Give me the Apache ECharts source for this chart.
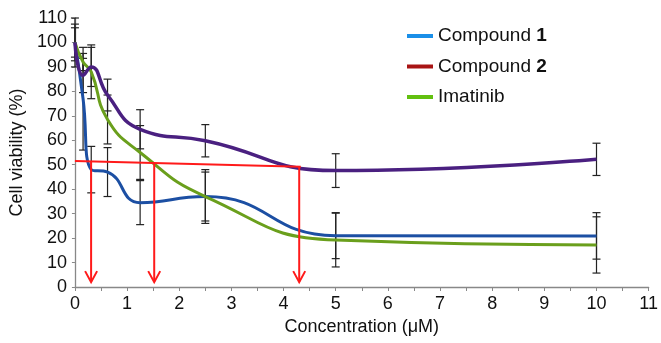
<!DOCTYPE html>
<html><head><meta charset="utf-8">
<script src="https://cdn.jsdelivr.net/npm/echarts@6/dist/echarts.min.js"></script>
<style>html,body{margin:0;padding:0;background:#fff}#c{width:661px;height:343px}</style>
</head><body><div id="c"></div>
<script>
const conc = [0, 0.156, 0.3125, 0.625, 1.25, 2.5, 5, 10];
const comp1 = [100, 77, 48, 47, 34.5, 37, 21, 20.9];
const comp1Err = [6, 21, 9.5, 10, 9, 10, 9.4, 9.5];
const comp2 = [100, 86.5, 90, 78.5, 64.5, 59.8, 47.6, 52.2];
const comp2Err = [10, 7, 8, 6.5, 8, 6.6, 6.9, 6.6];
const imat = [100, 92, 88, 68.5, 55, 37, 19.2, 17.2];
const imatErr = [7.5, 3.5, 11, 10, 11, 11, 11, 11.5];
const ic50Line = [[0, 51.5], [4.33, 49.2]];
const arrowX = [0.31, 1.52, 4.3];
const arrowTop = [51.3, 50.8, 49.3];
const arrowBottom = [2, 2, 2];

const pts = (v) => conc.map((x, i) => [x, v[i]]);
const errs = (v, e) => conc.map((x, i) => [x, v[i] - e[i], v[i] + e[i]]);
const font = 'Liberation Sans, Arial, Helvetica, sans-serif';

function errRender(params, api) {
  const x = api.value(0);
  const lo = api.coord([x, api.value(1)]);
  const hi = api.coord([x, api.value(2)]);
  const w = 4;
  const st = {stroke: '#222', lineWidth: 1.2, fill: 'none'};
  return {type: 'group', children: [
    {type: 'line', shape: {x1: lo[0], y1: lo[1], x2: hi[0], y2: hi[1]}, style: st},
    {type: 'line', shape: {x1: lo[0]-w, y1: lo[1], x2: lo[0]+w, y2: lo[1]}, style: st},
    {type: 'line', shape: {x1: hi[0]-w, y1: hi[1], x2: hi[0]+w, y2: hi[1]}, style: st}
  ]};
}
function arrowRender(params, api) {
  const x = api.value(0);
  const t = api.coord([x, api.value(1)]);
  const b = api.coord([x, api.value(2)]);
  const st = {stroke: '#ff1a1a', lineWidth: 2, fill: 'none'};
  return {type: 'group', children: [
    {type: 'line', shape: {x1: t[0], y1: t[1], x2: b[0], y2: b[1]}, style: st},
    {type: 'polyline', shape: {points: [[b[0]-6, b[1]-11], [b[0], b[1]], [b[0]+6, b[1]-11]]}, style: st}
  ]};
}
const chart = echarts.init(document.getElementById('c'));
chart.setOption({
  animation: false,
  textStyle: {fontFamily: font},
  grid: {left: 72.7, right: 11, top: 18, bottom: 56},
  legend: {
    orient: 'vertical', left: 407, top: 26.5, itemGap: 11.5, padding: 0,
    itemWidth: 26, itemHeight: 4, icon: 'rect',
    textStyle: {fontSize: 19, color: '#111', fontFamily: font, lineHeight: 19,
      rich: {b: {fontWeight: 'bold', fontSize: 19, fontFamily: font}}},
    formatter: (n) => n.replace(/ (\d)$/, ' {b|$1}'),
    data: [
      {name: 'Compound 1', itemStyle: {color: '#1a8fe8'}, lineStyle: {color: '#1a8fe8'}},
      {name: 'Compound 2', itemStyle: {color: '#a81414'}, lineStyle: {color: '#a81414'}},
      {name: 'Imatinib', itemStyle: {color: '#62c010'}, lineStyle: {color: '#62c010'}}
    ]
  },
  xAxis: {
    type: 'value', min: 0, max: 11, interval: 1,
    name: 'Concentration (μM)', nameLocation: 'middle', nameGap: 29,
    nameTextStyle: {fontSize: 18, color: '#111', fontFamily: font},
    axisLine: {lineStyle: {color: '#888', width: 1.3}},
    axisTick: {length: 4, lineStyle: {color: '#888'}},
    minorTick: {show: true, splitNumber: 2, length: 4, lineStyle: {color: '#888'}},
    splitLine: {show: false},
    axisLabel: {fontSize: 18, color: '#111', margin: 8, showMaxLabel: true}
  },
  yAxis: {
    type: 'value', min: 0, max: 110, interval: 10,
    name: 'Cell viability (%)', nameLocation: 'middle', nameGap: 40, nameRotate: 90,
    nameTextStyle: {fontSize: 18, color: '#111', fontFamily: font},
    axisLine: {show: true, lineStyle: {color: '#888', width: 1.3}},
    axisTick: {show: true, length: 3, lineStyle: {color: '#888'}},
    splitLine: {show: false},
    axisLabel: {fontSize: 18, color: '#111', margin: 8}
  },
  series: [
    {type: 'custom', name: 'e1', renderItem: errRender, data: errs(comp1, comp1Err), z: 1, silent: true},
    {type: 'custom', name: 'e2', renderItem: errRender, data: errs(comp2, comp2Err), z: 1, silent: true},
    {type: 'custom', name: 'e3', renderItem: errRender, data: errs(imat, imatErr), z: 1, silent: true},
    {type: 'line', name: 'Compound 1', data: pts(comp1), smooth: 0.5, showSymbol: false, symbol: 'none',
      lineStyle: {color: '#1c4fa3', width: 3}, itemStyle: {color: '#1c4fa3'}, z: 2},
    {type: 'line', name: 'Imatinib', data: pts(imat), smooth: 0.5, showSymbol: false, symbol: 'none',
      lineStyle: {color: '#6a9f1c', width: 3}, itemStyle: {color: '#6a9f1c'}, z: 2},
    {type: 'line', name: 'Compound 2', data: pts(comp2), smooth: 0.5, showSymbol: false, symbol: 'none',
      lineStyle: {color: '#4a2080', width: 3.5}, itemStyle: {color: '#4a2080'}, z: 3},
    {type: 'line', name: 'ic50', data: ic50Line, showSymbol: false, symbol: 'none',
      lineStyle: {color: '#ff1a1a', width: 2}, z: 4},
    {type: 'custom', name: 'arrows', renderItem: arrowRender,
      data: arrowX.map((x, i) => [x, arrowTop[i], arrowBottom[i]]), z: 4, silent: true}
  ]
});
</script></body></html>
